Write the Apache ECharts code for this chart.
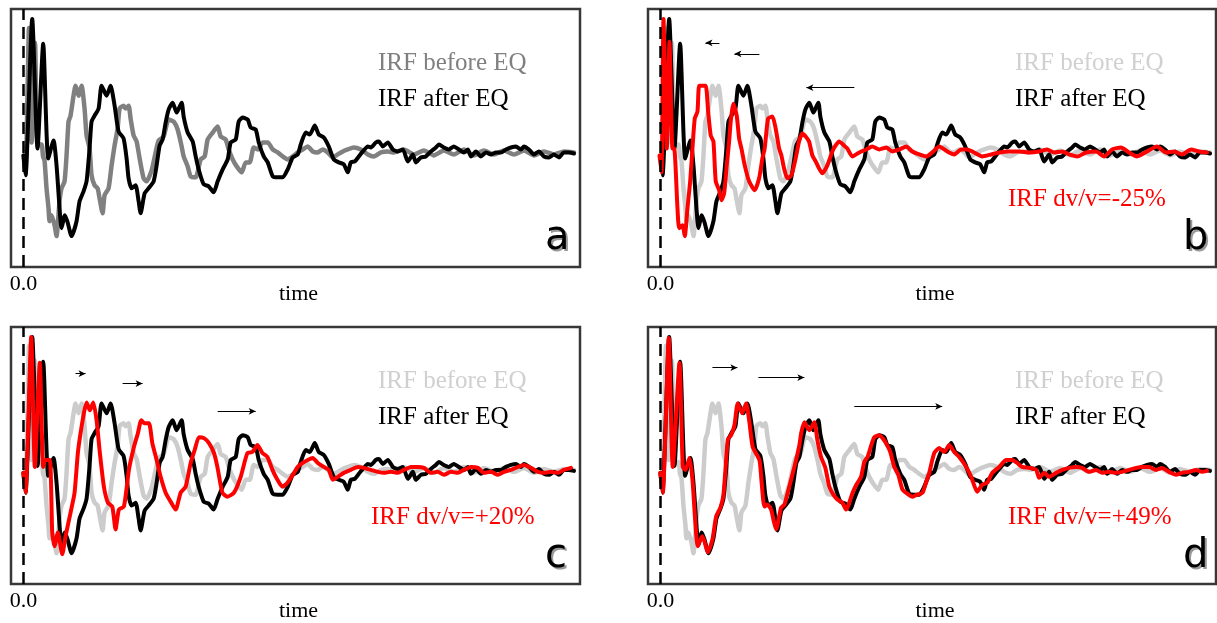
<!DOCTYPE html>
<html><head><meta charset="utf-8">
<script src="https://cdn.jsdelivr.net/npm/echarts@6/dist/echarts.min.js"></script>
<style>html,body{margin:0;padding:0;background:#fff}#c{width:1217px;height:623px}</style>
</head><body><div id="c"></div>
<script>
// time (arbitrary units, 0 = source time) and amplitude (arbitrary units)
const beforeEQ = [[0,-3],[2,-22],[5.5,125],[8,10],[11.5,110],[14,8],[18,8],[19.5,-4],[21,-8],[23,-36],[25,-56],[26,-69],[28,-63],[31,-73],[33,-84],[36,-49],[38,-36],[41,-29],[43,-3],[45,31],[47,37],[50,57],[52,67],[55,57],[58,67],[61,44],[63,17],[66,4],[68,-23],[71,-33],[74,-36],[76,-46],[79,-61],[81,-43],[85,-36],[88,-13],[91,7],[94,24],[96,44],[100,47],[102,44],[105,47],[107,34],[110,17],[113,11],[116,-6],[120,-26],[123,-29],[128,-18],[132,0],[135,12],[140,16],[145,33],[150,31],[154,23],[158,6],[160,-4],[164,-14],[167,-24],[172,-25],[177,-7],[181,-4],[184,13],[189,20],[194,26],[197,16],[202,13],[205,3],[209,-7],[213,-14],[218,-20],[222,-10],[226,-10],[230,5],[234,3],[239,10],[244,10],[249,3],[254,0],[259,-4],[264,-7],[269,-4],[274,0],[279,3],[284,6],[289,1],[294,0],[299,3],[304,0],[309,-5],[314,-2],[319,1],[324,3],[330,5],[337,3],[344,-2],[350,-4],[357,0],[364,1],[370,0],[380,3],[390,-2],[400,2],[410,-3],[420,2],[430,-2],[440,3],[450,-3],[460,2],[470,-2],[480,2],[490,-2],[500,2],[510,-3],[520,1],[530,-2],[540,1],[550,0]];
const afterEQ = [[0,-3],[2,-23],[8.7,134],[14,4],[19.7,109],[24.7,-6],[30,12],[33,-13],[36.3,-60],[38,-76],[41.3,-63],[44,-70],[48,-84],[53,-69],[56,-49],[60,-39],[63,-29],[66,4],[68,31],[71,37],[75,44],[78,67],[83,57],[87,67],[91,47],[95,21],[100,14],[103,-6],[105,-26],[108,-36],[112,-33],[115,-49],[117,-61],[121,-41],[125,-36],[130,-29],[133,-13],[136,7],[139,13],[142,30],[145,43],[149,50],[153,40],[158,50],[160,36],[164,20],[169,11],[172,-4],[175,-17],[180,-32],[185,-34],[190,-40],[194,-29],[199,-17],[204,-7],[207,10],[212,13],[215,31],[219,35],[224,33],[227,25],[232,23],[235,10],[240,-4],[244,-10],[249,-24],[254,-25],[259,-25],[264,-17],[269,-5],[274,-2],[277,8],[282,20],[286,18],[291,27],[295,18],[300,15],[305,6],[310,-7],[315,-10],[320,-12],[324,-20],[327,-10],[331,-9],[335,-4],[339,1],[344,6],[347,5],[352,10],[355,11],[359,6],[364,10],[369,3],[374,1],[379,3],[384,-9],[389,-2],[392,-10],[397,-5],[402,-4],[407,1],[412,5],[415,8],[420,5],[425,3],[430,6],[435,3],[440,0],[444,3],[447,-4],[452,1],[457,-4],[462,0],[467,-2],[472,0],[477,0],[482,3],[487,5],[492,6],[497,3],[500,6],[505,3],[510,-2],[515,1],[520,-4],[525,-5],[530,-2],[535,-5],[540,0],[545,0],[550,-1]];
const redB = [[-1,-3],[1,-20],[3,134],[6.3,4],[9,111],[12,4],[13.7,4],[17,-56],[18.7,-76],[22,-73],[24.3,-84],[27,-56],[29.7,-29],[32,4],[34.3,34],[37,41],[38.7,67],[42,67],[45.3,67],[47.7,41],[50.3,17],[53,11],[55.3,-29],[58.7,-38],[61,-48],[63.7,-41],[66.3,-13],[68.7,11],[70.3,31],[73,49],[76.3,37],[78.7,14],[81,4],[84.3,-13],[88.7,-29],[94.3,-38],[98.7,-26],[102,-6],[104.3,4],[107.7,34],[112,36],[115.3,24],[118.7,4],[121,-3],[123.7,-16],[127,-26],[131,-23],[135.3,-6],[138.7,11],[142,19],[145.3,16],[148.7,11],[152,-3],[155.3,-9],[158.7,-16],[162,-21],[167,-13],[172,1],[175.3,7],[178.7,11],[183.7,7],[187,4],[192,-4],[199,0],[206,3],[212,6],[219,3],[226,5],[232,1],[239,3],[246,6],[252,1],[259,-2],[266,-4],[272,0],[279,6],[287,1],[294,-2],[301,3],[307,3],[314,0],[322,-4],[331,-2],[339,0],[349,1],[359,1],[369,0],[379,1],[387,3],[394,0],[402,1],[409,-2],[417,-4],[426,0],[436,1],[444,-4],[452,3],[461,5],[469,0],[477,-4],[487,1],[497,6],[506,0],[514,1],[522,-2],[531,3],[539,1],[547,0]];
const redC = [[-0.3,-3],[2,-23],[7.7,134],[11.3,3],[16.3,108],[19.7,3],[22,10],[26.3,10],[28.7,-63],[31,-77],[34.3,-63],[38.7,-85],[42,-67],[47,-43],[51,-23],[54.3,17],[57,37],[60.3,57],[63,68],[66.3,60],[69.7,68],[73,50],[76.3,17],[80.3,-17],[84.3,-33],[88.7,-37],[92,-60],[95.3,-40],[100.3,-37],[105.3,0],[110.3,23],[114.3,37],[117.7,50],[121,47],[125.3,47],[128.7,27],[133,10],[137,-7],[142,-23],[147,-32],[152,-40],[157,-23],[162,-17],[167,7],[171,20],[175.3,33],[180.3,32],[185.3,27],[190.3,17],[193.7,3],[198.7,-23],[203.7,-27],[210.3,-23],[217,-7],[223.7,17],[228.7,18],[233.7,25],[238.7,17],[243.7,13],[248.7,0],[253.7,-10],[258.7,-17],[263.7,-13],[270.3,-3],[274,3],[279,7],[284,10],[289,12],[294,7],[300,3],[305,0],[309,-10],[314,-7],[320,-3],[327,0],[334,3],[340,2],[347,0],[354,-2],[360,-3],[367,-2],[374,-3],[380,0],[387,3],[394,3],[400,2],[407,-3],[414,-2],[420,-5],[427,-2],[434,-3],[440,0],[447,3],[454,2],[460,-3],[467,-2],[474,-5],[480,-2],[487,0],[494,3],[500,5],[507,2],[514,-2],[520,-3],[527,-2],[534,-3],[540,0],[547,2]];
const redD = [[-0.3,-3],[2.3,-23],[8.3,133],[12.3,3],[19,108],[22.3,3],[25,0],[29,12],[32,-10],[35,-55],[37.3,-77],[41.7,-67],[44,-72],[47.3,-83],[52,-70],[55.7,-47],[60,-38],[63,-25],[65.7,10],[67.5,31],[70.7,35],[74,45],[77.3,67],[81.7,57],[85.7,67],[89,48],[92.3,23],[99,10],[101,-10],[104,-37],[107,-35],[110.7,-40],[113,-50],[115.7,-60],[120.7,-38],[124,-35],[127.3,-23],[132,-5],[135.7,10],[139,25],[141,38],[144,48],[149,40],[154,48],[157,30],[160.7,13],[165,2],[169,-17],[173,-25],[177.3,-30],[182,-33],[185.7,-40],[192.3,-23],[196,-15],[200.7,-7],[204,8],[207.3,13],[211,25],[214,33],[219,35],[223,31],[225.7,27],[230,18],[234,3],[238,-5],[242.3,-20],[247,-24],[252.3,-27],[257,-25],[262.3,-23],[266,-12],[269,-3],[274,17],[279,22],[284,18],[289,25],[294,18],[299,13],[306,3],[311,-7],[317,-22],[322,-15],[327,-13],[332,-3],[339,3],[346,10],[352,10],[357,7],[362,3],[369,2],[376,0],[379,-8],[384,-3],[389,-7],[396,-3],[402,0],[409,2],[416,3],[422,2],[429,-2],[436,0],[442,-3],[449,-2],[456,-3],[462,-2],[469,0],[476,2],[482,3],[489,3],[496,0],[502,2],[509,-2],[516,-5],[522,-3],[529,-2],[536,0],[542,-2],[547,-1]];
// arrows: [from time, to time, amplitude]
const arrowsB = [[59,45,110],[99,74,99],[194,146,65]];
const arrowsC = [[52,62,97],[99,119,87],[194,232,59]];
const arrowsD = [[52,77,103],[98,144,93],[194,282,64]];
const panelLetters = ['a','b','c','d'];
const redLabels = ['', 'IRF dv/v=-25%', 'IRF dv/v=+20%', 'IRF dv/v=+49%'];
const legendBefore = 'IRF before EQ';
const legendAfter = 'IRF after EQ';
const xTickLabel = '0.0';
const xName = 'time';

const grids = [
  {left: 11, top: 9, width: 569, height: 258},
  {left: 648, top: 9, width: 568, height: 258},
  {left: 11, top: 327, width: 569, height: 259},
  {left: 648, top: 327, width: 568, height: 259}
];
const reds = [null, redB, redC, redD];
const arrows = [null, arrowsB, arrowsC, arrowsD];
const SERIF = '"Liberation Serif", "DejaVu Serif", serif';

const xAxes = [], yAxes = [], series = [], graphic = [];
grids.forEach((g, i) => {
  g.show = true; g.borderColor = '#383838'; g.borderWidth = 2.5; g.backgroundColor = '#fff';
  xAxes.push({
    type: 'value', gridIndex: i, min: -12.5, max: 556,
    axisLine: {show: false}, axisTick: {show: false}, splitLine: {show: false},
    axisLabel: {customValues: [0], formatter: () => xTickLabel, color: '#000', fontFamily: SERIF, fontSize: 22, margin: 6},
    name: xName, nameLocation: 'middle', nameGap: 16, nameMoveOverlap: false,
    nameTextStyle: {color: '#000', fontFamily: SERIF, fontSize: 22, padding: [0, 0, 0, 6]}
  });
  yAxes.push({type: 'value', gridIndex: i, min: -115, max: 144, show: false});
  series.push({
    type: 'line', xAxisIndex: i, yAxisIndex: i, data: beforeEQ, showSymbol: false, smooth: 0.2,
    lineStyle: {color: i === 0 ? '#808080' : '#cccccc', width: 4.5, cap: 'round', join: 'round'},
    markLine: {silent: true, symbol: ['none', 'none'], label: {show: false},
      lineStyle: {color: '#000', type: [12, 7], width: 2.5},
      data: [{xAxis: 0, lineStyle: {color: '#000', type: [12, 7], width: 2.5}}]},
    z: 2
  });
  series.push({
    type: 'line', xAxisIndex: i, yAxisIndex: i, data: afterEQ, showSymbol: false, smooth: 0.2,
    lineStyle: {color: '#000', width: 4, cap: 'round', join: 'round'}, z: 3
  });
  if (reds[i]) {
    series.push({
      type: 'line', xAxisIndex: i, yAxisIndex: i, data: reds[i], showSymbol: false, smooth: 0.2,
      lineStyle: {color: '#ff0000', width: 4, cap: 'round', join: 'round'}, z: 4,
      markLine: {silent: true, symbol: ['none', 'none'], label: {show: false},
        lineStyle: {color: '#000', type: 'solid', width: 1},
        data: arrows[i].map(a => [{coord: [a[0], a[2]], symbol: 'none'}, {coord: [a[1], a[2]], symbol: 'arrow', symbolSize: [5, 7]}])}
    });
  }
  const L = g.left, T = g.top;
  const tx = L + 367;
  graphic.push({type: 'text', z: 10, style: {text: legendBefore, x: tx, y: T + 54, font: '25px ' + SERIF, fill: i === 0 ? '#808080' : '#d0d0d0', align: 'left', verticalAlign: 'middle'}});
  graphic.push({type: 'text', z: 10, style: {text: legendAfter, x: tx, y: T + 90, font: '25px ' + SERIF, fill: '#000', align: 'left', verticalAlign: 'middle'}});
  if (redLabels[i]) {
    graphic.push({type: 'text', z: 10, style: {text: redLabels[i], x: L + 360, y: T + 190, font: '25px ' + SERIF, fill: '#ff0000', align: 'left', verticalAlign: 'middle'}});
  }
  const lx = L + 534 + (i % 2 ? 1 : 0), ly = T + 230;
  graphic.push({type: 'text', z: 10, style: {text: panelLetters[i], x: lx + 2, y: ly + 2, font: '40px "DejaVu Sans", sans-serif', fill: '#999', align: 'left', verticalAlign: 'middle'}});
  graphic.push({type: 'text', z: 11, style: {text: panelLetters[i], x: lx, y: ly, font: '40px "DejaVu Sans", sans-serif', fill: '#000', align: 'left', verticalAlign: 'middle'}});
});

const chart = echarts.init(document.getElementById('c'), null, {renderer: 'canvas'});
chart.setOption({
  animation: false,
  backgroundColor: '#fff',
  grid: grids, xAxis: xAxes, yAxis: yAxes, series: series, graphic: graphic
});
</script></body></html>
